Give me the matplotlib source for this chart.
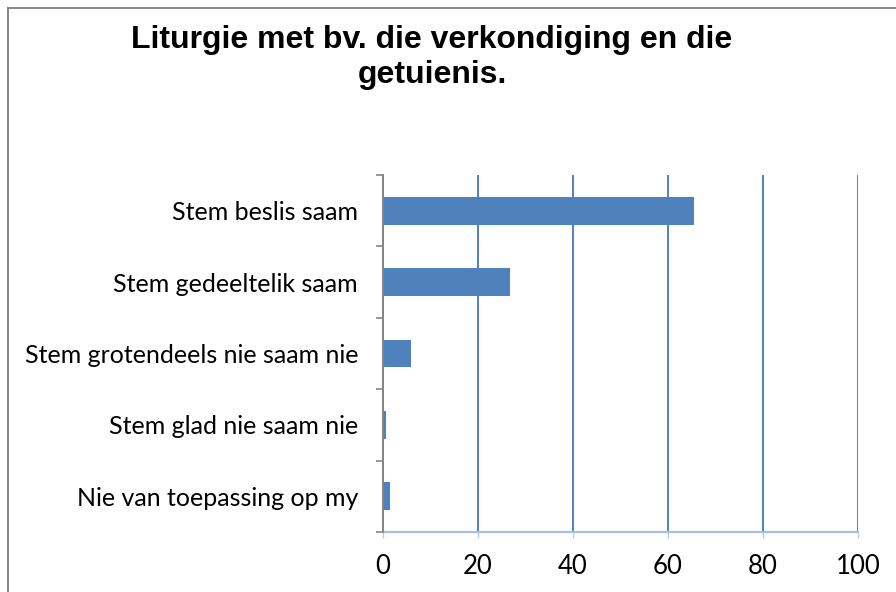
import matplotlib
matplotlib.use("Agg")
import matplotlib.pyplot as plt
from matplotlib.lines import Line2D
import numpy as np

categories = [
    "Stem beslis saam",
    "Stem gedeeltelik saam",
    "Stem grotendeels nie saam nie",
    "Stem glad nie saam nie",
    "Nie van toepassing op my",
]
values = [65.5, 26.7, 5.9, 0.7, 1.4]
x_ticks = [0, 20, 40, 60, 80, 100]
title = "Liturgie met bv. die verkondiging en die\ngetuienis."

W, H = 896, 592
fig = plt.figure(figsize=(W / 100, H / 100), dpi=100)

ax = fig.add_axes([383 / W, 60 / H, (858 - 383) / W, (532 - 175) / H])

bar_color = "#4F81BD"
n = len(categories)
pos = np.arange(n)
ax.barh(pos, values, height=0.39, color=bar_color, zorder=3)

ax.set_xlim(0, 100)
ax.set_ylim(n - 0.5, -0.5)

# vertical gridlines
ax.set_xticks(x_ticks)
ax.set_xticklabels([str(t) for t in x_ticks])
ax.xaxis.grid(True, color=bar_color, linewidth=1.4, zorder=0)
ax.yaxis.grid(False)

# category boundaries as major ticks, labels on minor ticks at centres
ax.set_yticks(np.arange(n + 1) - 0.5)
ax.set_yticklabels([])
ax.set_yticks(pos, minor=True)
ax.set_yticklabels(categories, minor=True)

label_font = "Lato"
for lab in ax.get_yticklabels(minor=True):
    lab.set_fontfamily(label_font)
    lab.set_fontsize(18)
for lab in ax.get_xticklabels():
    lab.set_fontfamily(label_font)
    lab.set_fontsize(18.5)

ax.tick_params(axis="y", which="major", length=5, width=1.2, color="#868686", direction="out")
ax.tick_params(axis="y", which="minor", length=0, pad=18)
ax.tick_params(axis="x", which="major", length=4, width=1.0, color="#B9CDE5",
               direction="out", pad=12)

for s in ("top", "right"):
    ax.spines[s].set_visible(False)
ax.spines["left"].set_color("#868686")
ax.spines["left"].set_linewidth(1.4)
ax.spines["left"].set_zorder(4)
ax.spines["bottom"].set_color("#A7C0E0")
ax.spines["bottom"].set_linewidth(1.6)

fig.text(432 / W, 1 - 25 / H, title, ha="center", va="top",
         fontfamily="Liberation Sans", fontweight="bold", fontsize=23,
         linespacing=1.2)

# outer frame (left and top edges)
fig.add_artist(Line2D([8 / W, 8 / W], [0, 1 - 8 / H], transform=fig.transFigure,
                      color="#868686", linewidth=1.4))
fig.add_artist(Line2D([8 / W, 1], [1 - 8 / H, 1 - 8 / H], transform=fig.transFigure,
                      color="#868686", linewidth=1.4))

fig.savefig("out.png", dpi=100, facecolor="white")
